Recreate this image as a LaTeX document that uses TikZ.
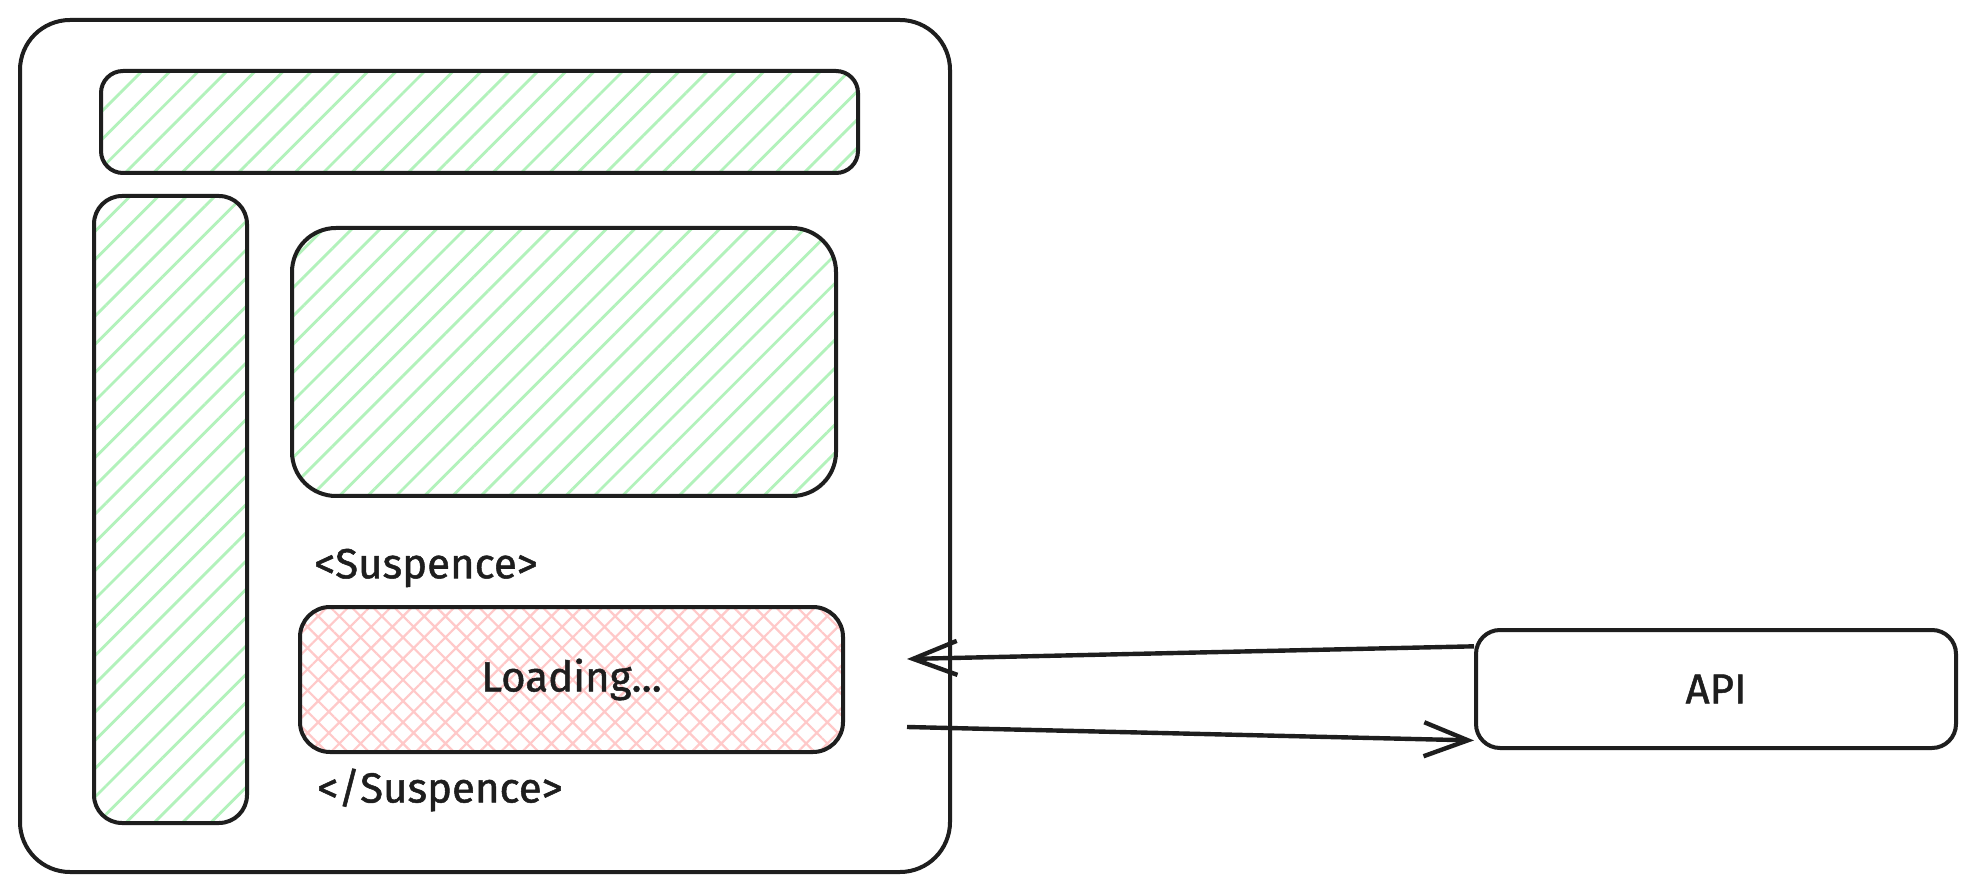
\documentclass[tikz,border=0pt]{standalone}
\usepackage{fontspec}
\setmainfont{Fira Sans}
\newfontfamily\handfont{Fira Sans}[FakeBold=1.2]
\usetikzlibrary{arrows.meta,patterns.meta}
\definecolor{ink}{HTML}{1E1E1E}
\definecolor{hatchgreen}{HTML}{B2F2BB}
\definecolor{hatchred}{HTML}{FFC9C9}
\tikzset{
  box/.style={draw=ink, line width=2pt, rectangle, inner sep=0pt},
  greenhatch/.style={pattern={Lines[angle=45,distance=10pt,line width=1.4pt]}, pattern color=hatchgreen},
  redhatch/.style={pattern={Hatch[angle=45,distance=7.5pt,line width=1.1pt]}, pattern color=hatchred},
  lbl/.style={font=\handfont\fontsize{21}{23}\selectfont, text=ink, inner sep=0pt},
  arr/.style={draw=ink, line width=2.2pt, -{Straight Barb[length=22pt,width=17pt,line width=2.2pt]}}
}
\begin{document}
\begin{tikzpicture}[x=0.5pt,y=-0.5pt]
\useasboundingbox[fill=white] (0,0) rectangle (1975,892);
\node[box, minimum width=465pt, minimum height=426pt, rounded corners=25pt] (outer) at (485,446) {};
\node[box, greenhatch, minimum width=378.5pt, minimum height=51pt, rounded corners=11pt] (topbar) at (479.5,122) {};
\node[box, greenhatch, minimum width=76.5pt, minimum height=313.5pt, rounded corners=14pt] (side) at (170.5,509.5) {};
\node[box, greenhatch, minimum width=272pt, minimum height=134pt, rounded corners=22pt] (main) at (564,362) {};
\node[lbl] (sopen) at (426,568) {<Suspence>};
\node[box, redhatch, lbl, minimum width=271.5pt, minimum height=72.5pt, rounded corners=15pt] (loading) at (571.5,679.5) {Loading...};
\node[lbl] (sclose) at (440,790) {</Suspence>};
\node[box, lbl, minimum width=240pt, minimum height=59pt, rounded corners=12pt] (api) at (1716,689) {API};
\coordinate (inA) at (907,659);
\coordinate (outB) at (907,727);
\draw[arr] (api.170) -- (inA);
\draw[arr] (outB) -- (api.192);
\end{tikzpicture}
\end{document}
